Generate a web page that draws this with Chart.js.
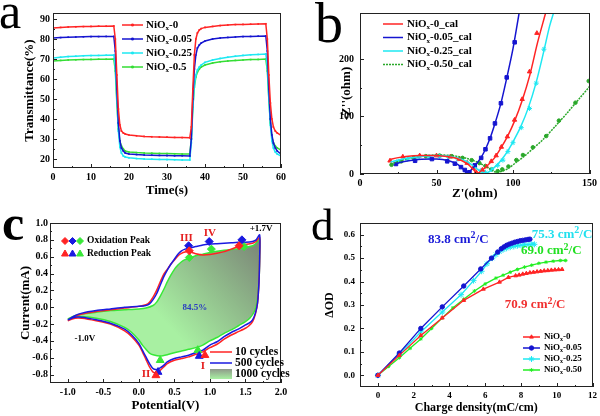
<!DOCTYPE html>
<html>
<head>
<meta charset="utf-8">
<script src="https://cdn.jsdelivr.net/npm/chart.js@4.4.1/dist/chart.umd.min.js"></script>
<style>
  body { margin: 0; width: 600px; height: 416px; background: #fff; position: relative; overflow: hidden; }
  canvas { position: absolute; }
  .tag { position: absolute; font-family: "Liberation Serif", serif; line-height: 1; color: #000; }
</style>
</head>
<body>
<canvas id="chartA" width="300" height="208" style="left:0;top:0"></canvas>
<canvas id="chartB" width="300" height="208" style="left:300px;top:0"></canvas>
<canvas id="chartC" width="300" height="208" style="left:0;top:208px"></canvas>
<canvas id="chartD" width="300" height="208" style="left:300px;top:208px"></canvas>
<div class="tag" style="left:-1px;top:-14px;font-size:50px">a</div>
<div class="tag" style="left:315px;top:-5px;font-size:56px">b</div>
<div class="tag" style="left:2px;top:198px;font-size:50px;font-weight:bold">c</div>
<div class="tag" style="left:311px;top:203px;font-size:45px">d</div>
<script>
// panel a: transmittance vs time
const timeS = [0, 2, 4, 6, 8, 10, 12, 14, 16, 16.4, 16.8, 17.2, 17.6, 18, 18.5, 19, 20, 22, 24, 26, 28, 30, 32, 34, 36,
  36.4, 36.8, 37.2, 37.6, 38, 38.5, 39, 40, 42, 44, 46, 48, 50, 52, 54, 56, 56.4, 56.8, 57.2, 57.6, 58, 58.5, 59, 60];
const transNiO0 = [85.5, 85.8, 86, 86.1, 86.2, 86.3, 86.4, 86.4, 86.5, 80, 62, 45, 37, 34, 33, 32.5, 32, 31.6, 31.3, 31.1, 31, 30.9, 30.8, 30.7, 30.6,
  36, 55, 72, 80, 83, 84.5, 85.2, 85.8, 86.3, 86.7, 87, 87.2, 87.3, 87.4, 87.5, 87.6, 80, 62, 48, 40, 36, 34, 33, 31.8];
const transNiO005 = [80.5, 80.7, 80.9, 81, 81.1, 81.2, 81.2, 81.3, 81.3, 74, 55, 38, 29, 25.5, 24, 23, 22.5, 22.2, 22, 21.9, 21.8, 21.7, 21.6, 21.6, 21.5,
  30, 50, 65, 72, 75.5, 77, 78, 79, 80, 80.5, 80.8, 81, 81.2, 81.3, 81.4, 81.5, 74, 55, 40, 32, 28, 25.5, 24, 22.5];
const transNiO025 = [70.5, 70.9, 71.2, 71.4, 71.6, 71.7, 71.8, 71.9, 72, 66, 50, 34, 26, 23, 21.5, 21, 20.6, 20.2, 20, 19.9, 19.8, 19.7, 19.6, 19.5, 19.5,
  28, 45, 57, 62, 64.5, 66, 67, 68.3, 69.5, 70.3, 70.9, 71.4, 71.8, 72.1, 72.3, 72.5, 66, 50, 37, 29, 25.5, 23.5, 22.5, 21.5];
const transNiO05 = [69, 69.3, 69.5, 69.6, 69.7, 69.8, 69.9, 69.9, 70, 64, 48, 35, 29, 26.5, 25, 24, 23.5, 23.2, 23, 22.9, 22.8, 22.7, 22.6, 22.5, 22.5,
  30, 46, 56, 61, 63.5, 65, 66, 67, 68, 68.6, 69, 69.3, 69.5, 69.7, 69.8, 70, 64, 50, 38, 31, 28, 26.5, 25.5, 24.5];
const aTicksX = [0, 10, 20, 30, 40, 50, 60];
const aTicksY = [20, 30, 40, 50, 60, 70, 80, 90];
const aLegend = ['-0', '-0.05', '-0.25', '-0.5'];

// panel b: Nyquist, fitted lines and measured points
const bFitRedX = [19, 25, 30, 40, 50, 60, 66, 70, 73, 75, 76.5, 78, 80, 83, 86, 89, 92.5, 96.5, 101, 106, 111, 116, 121.3];
const bFitRedY = [25, 28.5, 30.5, 32, 32, 29, 24, 18, 11, 5, 1, 3, 7, 14, 22, 32, 47, 66, 92, 128, 172, 228, 280];
const bFitBlueX = [23, 30, 40, 50, 58, 63, 66, 68, 69.5, 70.5, 72, 75, 79, 82, 85, 88, 92, 96, 100, 104];
const bFitBlueY = [18, 22, 25.5, 26, 23, 18, 12, 7, 2, 1, 5, 14, 28, 43, 62, 86, 122, 168, 218, 280];
const bFitCyanX = [20, 30, 40, 50, 60, 67, 72, 76, 79, 81.5, 83, 85, 88, 91, 94, 97, 100, 105, 110, 115, 120, 124, 126.5];
const bFitCyanY = [21, 27, 30.5, 32, 30, 25, 18, 10, 4, 1, 2, 5, 12, 20, 30, 42, 56, 82, 115, 158, 212, 258, 280];
const bFitGreenX = [20, 30, 40, 50, 60, 70, 78, 83, 86, 88, 90, 93, 97, 102, 107, 113, 120, 128, 136, 143, 150];
const bFitGreenY = [17, 26, 31, 33, 32, 27, 19, 12, 7, 4, 3.5, 5, 10, 20, 30, 44, 61, 84, 108, 130, 152];
const bPtRedX = [19.6, 28, 39, 50, 59, 65, 70, 74, 76, 80, 82.6, 85.8, 89, 92.4, 96.3, 101, 106, 110.8, 115.6];
const bPtRedY = [23, 30, 32, 32, 30, 26, 19, 10, 3, 7, 13, 22, 32, 47, 65, 94, 130, 178, 245];
const bPtBlueX = [23.5, 36, 47, 57, 62, 66, 68.5, 70, 71.5, 75, 79.2, 82, 85, 88.2, 92.1, 95.9, 101.1];
const bPtBlueY = [17.4, 23, 26, 22, 18, 12, 7, 2, 3, 15, 28, 43, 62, 88, 123, 168, 229];
const bPtCyanX = [25, 31, 38, 45, 52, 58, 64, 70, 75, 79, 82, 86, 90, 93.4, 96.7, 100, 105.4, 110.8, 115.2, 120.2];
const bPtCyanY = [22, 26, 29, 30, 31, 29, 26, 20, 12, 6, 3, 8, 15, 24, 39, 54.5, 80.6, 114, 158, 217];
const bPtGreenX = [20.6, 27, 35, 43, 52, 60, 67, 73, 78, 82, 86, 90, 93, 97, 102.2, 106.5, 113, 121.7, 130, 140.8, 149.5];
const bPtGreenY = [16, 22, 28, 31, 32, 31, 28, 24, 19, 14, 8, 5, 8, 13, 24.3, 33, 46.4, 66, 92.8, 124, 161.7];
const bTicksX = [0, 50, 100, 150];
const bTicksY = [0, 100, 200];
const bLegend = ['-0_cal', '-0.05_cal', '-0.25_cal', '-0.50_cal'];

// panel c: CV loops (anodic branch then cathodic branch, closed)
const cv10X = [-1.0, -0.9, -0.8, -0.6, -0.4, -0.2, 0.0, 0.1, 0.15, 0.2, 0.25, 0.3, 0.35, 0.4, 0.45, 0.5, 0.55, 0.6, 0.65, 0.7, 0.75, 0.8, 0.9, 1.0, 1.1, 1.2, 1.3, 1.4, 1.5, 1.6, 1.65, 1.7,
  1.7, 1.69, 1.67, 1.64, 1.6, 1.55, 1.5, 1.4, 1.3, 1.2, 1.1, 1.0, 0.9, 0.8, 0.7, 0.6, 0.5, 0.4, 0.35, 0.3, 0.25, 0.2, 0.15, 0.1, 0.05, 0.0, -0.1, -0.2, -0.4, -0.6, -0.8, -0.9, -1.0];
const cv10Y = [-0.16, -0.11, -0.08, -0.05, -0.03, -0.01, 0.01, 0.03, 0.06, 0.12, 0.2, 0.3, 0.39, 0.45, 0.51, 0.56, 0.61, 0.64, 0.655, 0.66, 0.65, 0.635, 0.62, 0.625, 0.64, 0.66, 0.69, 0.72, 0.745, 0.76, 0.78, 0.83,
  0.6, 0.3, 0.05, -0.08, -0.17, -0.22, -0.25, -0.29, -0.33, -0.38, -0.44, -0.48, -0.53, -0.56, -0.59, -0.61, -0.63, -0.67, -0.71, -0.75, -0.78, -0.77, -0.71, -0.62, -0.53, -0.45, -0.35, -0.28, -0.2, -0.16, -0.13, -0.13, -0.16];
const cv500X = cv10X;
const cv500Y = [-0.15, -0.1, -0.07, -0.04, -0.02, 0.0, 0.01, 0.02, 0.04, 0.09, 0.16, 0.26, 0.36, 0.44, 0.51, 0.57, 0.63, 0.67, 0.69, 0.7, 0.71, 0.72, 0.74, 0.75, 0.755, 0.76, 0.765, 0.77, 0.77, 0.78, 0.8, 0.86,
  0.6, 0.3, 0.05, -0.07, -0.15, -0.19, -0.21, -0.26, -0.3, -0.35, -0.41, -0.45, -0.51, -0.54, -0.57, -0.59, -0.61, -0.65, -0.69, -0.72, -0.74, -0.73, -0.67, -0.59, -0.51, -0.43, -0.33, -0.26, -0.19, -0.15, -0.12, -0.12, -0.15];
const cv1000X = [-1.0, -0.9, -0.8, -0.6, -0.4, -0.2, 0.0, 0.1, 0.2, 0.25, 0.3, 0.35, 0.4, 0.45, 0.5, 0.55, 0.6, 0.65, 0.7, 0.8, 0.9, 1.0, 1.1, 1.2, 1.3, 1.4, 1.5, 1.6, 1.65, 1.7,
  1.7, 1.69, 1.66, 1.62, 1.56, 1.5, 1.4, 1.3, 1.2, 1.1, 1.0, 0.9, 0.8, 0.7, 0.6, 0.5, 0.4, 0.3, 0.2, 0.15, 0.1, 0.05, 0.0, -0.1, -0.2, -0.4, -0.6, -0.8, -0.9, -1.0];
const cv1000Y = [-0.14, -0.1, -0.08, -0.06, -0.04, -0.03, -0.02, -0.01, 0.02, 0.06, 0.13, 0.21, 0.3, 0.38, 0.45, 0.5, 0.54, 0.565, 0.58, 0.61, 0.63, 0.65, 0.665, 0.675, 0.685, 0.695, 0.71, 0.73, 0.76, 0.81,
  0.6, 0.3, 0.05, -0.06, -0.13, -0.17, -0.22, -0.27, -0.31, -0.36, -0.4, -0.45, -0.48, -0.5, -0.52, -0.54, -0.565, -0.58, -0.565, -0.545, -0.5, -0.45, -0.39, -0.3, -0.24, -0.17, -0.13, -0.11, -0.11, -0.14];
const oxRedX = [0.71, 1.41], oxRedY = [0.67, 0.73];
const oxBlueX = [0.70, 0.99, 1.45], oxBlueY = [0.73, 0.78, 0.80];
const oxGreenX = [0.71, 1.02, 1.48], oxGreenY = [0.59, 0.69, 0.72];
const rdRedX = [0.24, 0.93], rdRedY = [-0.81, -0.57];
const rdBlueX = [0.27, 0.85], rdBlueY = [-0.77, -0.58];
const rdGreenX = [0.30, 0.83], rdGreenY = [-0.63, -0.51];
const cTicksX = [-1.0, -0.5, 0.0, 0.5, 1.0, 1.5, 2.0];
const cTicksY = [-0.8, -0.6, -0.4, -0.2, 0.0, 0.2, 0.4, 0.6, 0.8, 1.0];
const cLegend = ['10 cycles', '500 cycles', '1000 cycles'];

// panel d: delta OD vs charge density
const dRedX = [0, 1.2, 2.4, 3.6, 4.8, 5.9, 6.8, 7.3, 7.7, 7.9, 8.1, 8.3, 8.5, 8.7, 8.9, 9.1, 9.3, 9.5, 9.7, 9.9, 10.1, 10.3];
const dRedY = [0, 0.085, 0.17, 0.245, 0.32, 0.368, 0.398, 0.418, 0.425, 0.428, 0.432, 0.435, 0.438, 0.44, 0.442, 0.444, 0.446, 0.447, 0.449, 0.45, 0.451, 0.452];
const dBlueX = [0, 1.2, 2.4, 3.6, 4.8, 5.75, 6.35, 6.7, 6.9, 7.05, 7.2, 7.35, 7.5, 7.65, 7.8, 7.95, 8.1, 8.25, 8.4, 8.5];
const dBlueY = [0, 0.095, 0.2, 0.292, 0.381, 0.454, 0.5, 0.526, 0.54, 0.548, 0.555, 0.56, 0.564, 0.568, 0.571, 0.574, 0.576, 0.578, 0.58, 0.581];
const dCyanX = [0, 1.2, 2.4, 3.6, 4.65, 5.35, 5.8, 6.1, 6.4, 6.6, 6.8, 7.0, 7.2, 7.4, 7.6, 7.8, 8.0, 8.2, 8.4, 8.6, 8.75];
const dCyanY = [0, 0.09, 0.185, 0.27, 0.344, 0.404, 0.444, 0.476, 0.5, 0.515, 0.527, 0.536, 0.542, 0.547, 0.55, 0.553, 0.555, 0.557, 0.558, 0.559, 0.559];
const dGreenX = [0, 0.6, 1.2, 1.8, 2.4, 3.0, 3.6, 4.2, 4.8, 5.4, 6.0, 6.6, 7.0, 7.4, 7.8, 8.2, 8.6, 9.0, 9.4, 9.8, 10.2, 10.5];
const dGreenY = [0, 0.038, 0.075, 0.115, 0.155, 0.2, 0.245, 0.288, 0.325, 0.36, 0.39, 0.415, 0.427, 0.44, 0.452, 0.462, 0.47, 0.478, 0.483, 0.487, 0.49, 0.49];
const dTicksX = [0, 2, 4, 6, 8, 10, 12];
const dTicksY = [0, 0.1, 0.2, 0.3, 0.4, 0.5, 0.6];
const dLegend = ['-0', '-0.05', '-0.25', '-0.50'];
const dLabels = ['70.9', '83.8', '75.3', '69.0'];

const SERIF = '"Liberation Serif", "Times New Roman", serif';
const RED = '#ff2424', BLUE = '#1515d0', CYAN = '#1ee8f2', GREEN = '#35dd35';

Chart.defaults.font.family = SERIF;
Chart.defaults.font.weight = 'bold';
Chart.defaults.font.size = 10;
Chart.defaults.color = '#000';

function pts(xs, ys) {
  return xs.map((x, i) => ({ x: x, y: ys[i] }));
}

function font(size, bold) {
  return (bold === false ? '' : 'bold ') + size + 'px ' + SERIF;
}

// NiOx with a subscript x
function drawNiO(ctx, x, y, suffix, size) {
  ctx.textAlign = 'left';
  ctx.textBaseline = 'middle';
  ctx.font = font(size);
  ctx.fillText('NiO', x, y);
  let w = ctx.measureText('NiO').width;
  ctx.font = font(Math.round(size * 0.65));
  ctx.fillText('x', x + w, y + size * 0.32);
  w += ctx.measureText('x').width;
  ctx.font = font(size);
  ctx.fillText(suffix, x + w, y);
}

function marker(ctx, style, r, x, y, color) {
  ctx.fillStyle = color;
  ctx.strokeStyle = color;
  Chart.helpers.drawPoint(ctx, { pointStyle: style, radius: r, rotation: 0, borderWidth: 1 }, x, y);
}

function legendLine(ctx, x1, x2, y, color, dash) {
  ctx.save();
  ctx.strokeStyle = color;
  ctx.lineWidth = 1.5;
  ctx.setLineDash(dash || []);
  ctx.beginPath();
  ctx.moveTo(x1, y);
  ctx.lineTo(x2, y);
  ctx.stroke();
  ctx.restore();
}

// box frame with small inward ticks
const framePlugin = {
  id: 'frame',
  afterDraw(chart) {
    const { ctx, chartArea: a } = chart;
    const xs = chart.scales.x, ys = chart.scales.y;
    ctx.save();
    ctx.strokeStyle = '#222';
    ctx.lineWidth = 1;
    ctx.strokeRect(Math.round(a.left) + 0.5, Math.round(a.top) + 0.5, Math.round(a.width) - 1, Math.round(a.height) - 1);
    ctx.beginPath();
    const xv = xs.ticks.map(t => t.value);
    xv.forEach((v, i) => {
      const p = Math.round(xs.getPixelForValue(v)) + 0.5;
      ctx.moveTo(p, a.bottom); ctx.lineTo(p, a.bottom - 4);
      if (i < xv.length - 1) {
        const m = Math.round(xs.getPixelForValue((v + xv[i + 1]) / 2)) + 0.5;
        ctx.moveTo(m, a.bottom); ctx.lineTo(m, a.bottom - 2);
      }
    });
    const yv = ys.ticks.map(t => t.value);
    yv.forEach((v, i) => {
      const p = Math.round(ys.getPixelForValue(v)) + 0.5;
      ctx.moveTo(a.left, p); ctx.lineTo(a.left + 4, p);
      if (i < yv.length - 1) {
        const m = Math.round(ys.getPixelForValue((v + yv[i + 1]) / 2)) + 0.5;
        ctx.moveTo(a.left, m); ctx.lineTo(a.left + 2, m);
      }
    });
    ctx.stroke();
    ctx.restore();
  }
};

function axis(min, max, tickVals, fmt, title, titleSize, titlePad, box, horizontal, tickPad, tickSize) {
  return {
    type: 'linear',
    min: min,
    max: max,
    afterBuildTicks: s => { s.ticks = tickVals.map(v => ({ value: v })); },
    afterFit: s => { if (horizontal) s.height = box; else s.width = box; },
    grid: { display: false, drawTicks: false },
    border: { display: false },
    ticks: { font: { size: tickSize || 10, weight: 'bold' }, padding: tickPad, callback: fmt, maxRotation: 0, autoSkip: false },
    title: { display: true, text: title, font: { size: titleSize, weight: 'bold' }, padding: titlePad },
  };
}

function panel(id, datasets, xAxis, yAxis, pad, extra) {
  return new Chart(document.getElementById(id), {
    type: 'scatter',
    data: { datasets: datasets },
    options: {
      responsive: false,
      animation: false,
      devicePixelRatio: 1,
      events: [],
      layout: { padding: pad },
      plugins: { legend: { display: false }, tooltip: { enabled: false } },
      scales: { x: xAxis, y: yAxis },
    },
    plugins: [framePlugin, extra],
  });
}

const fmt0 = v => String(v);
const fmt1 = v => v.toFixed(1);

// ---------- a ----------
const aColors = [RED, BLUE, CYAN, GREEN];
const aData = [transNiO0, transNiO005, transNiO025, transNiO05];
panel('chartA',
  aData.map((ys, i) => ({
    data: pts(timeS, ys), showLine: true, borderColor: aColors[i], backgroundColor: aColors[i],
    borderWidth: 1.5, pointStyle: 'rect', pointRadius: 1.2, pointBorderWidth: 0,
  })),
  axis(0, 60, aTicksX, fmt0, 'Time(s)', 13, { bottom: 10 }, 40, true, 3),
  axis(15.5, 93, aTicksY, fmt0, 'Transmittance(%)', 13, { top: 22 }, 53, false, 3),
  { top: 13, right: 19, left: 0, bottom: 0 },
  {
    id: 'legA',
    afterDraw(chart) {
      const ctx = chart.ctx;
      aLegend.forEach((s, i) => {
        const y = 25 + i * 14;
        legendLine(ctx, 122, 143, y, aColors[i]);
        marker(ctx, 'rect', 1.3, 132.5, y, aColors[i]);
        ctx.fillStyle = '#000';
        drawNiO(ctx, 146, y, s, 11);
      });
    }
  });

// ---------- b ----------
const bColors = [RED, BLUE, CYAN, '#2aa82a'];
const bFits = [[bFitRedX, bFitRedY], [bFitBlueX, bFitBlueY], [bFitCyanX, bFitCyanY], [bFitGreenX, bFitGreenY]];
const bPts = [[bPtRedX, bPtRedY], [bPtBlueX, bPtBlueY], [bPtCyanX, bPtCyanY], [bPtGreenX, bPtGreenY]];
const bStyles = ['triangle', 'rect', 'star', 'circle'];
const bDatasets = [];
bFits.forEach((f, i) => {
  bDatasets.push({
    data: pts(f[0], f[1]), showLine: true, borderColor: bColors[i], borderWidth: 1.5, pointRadius: 0,
    tension: 0.3, borderDash: i === 3 ? [2, 1] : [],
  });
});
bPts.forEach((p, i) => {
  bDatasets.push({
    data: pts(p[0], p[1]), showLine: false, pointStyle: bStyles[i], pointRadius: i === 3 ? 1.8 : 2.5,
    backgroundColor: bColors[i], borderColor: bColors[i], pointBorderWidth: 1,
  });
});
panel('chartB', bDatasets,
  axis(0, 150, bTicksX, fmt0, "Z'(ohm)", 13, { bottom: 7 }, 34, true, 3),
  axis(0, 280, bTicksY, fmt0, "-Z''(ohm)", 13, { top: 39 }, 60, false, 6),
  { top: 13, right: 10, left: 0, bottom: 0 },
  {
    id: 'legB',
    afterDraw(chart) {
      const ctx = chart.ctx;
      bLegend.forEach((s, i) => {
        const y = 24 + i * 13.5;
        legendLine(ctx, 83, 103, y, bColors[i], i === 3 ? [2, 1] : null);
        ctx.fillStyle = '#000';
        drawNiO(ctx, 107, y, s, 11);
      });
    }
  });

// ---------- c ----------
const cColors = [RED, '#1a1ae0', '#38e838'];
const cFill = (c) => {
  const chart = c.chart, a = chart.chartArea;
  if (!a) return '#a6eea0';
  const g = chart.ctx.createLinearGradient(a.left + a.width * 0.88, a.top + a.height * 0.12, a.left + a.width * 0.5, a.top + a.height * 0.62);
  g.addColorStop(0, '#7d8a79');
  g.addColorStop(0.45, '#8fb98a');
  g.addColorStop(1, '#a8f0a2');
  return g;
};
const cDatasets = [
  { data: pts(cv1000X, cv1000Y), showLine: true, fill: 'shape', backgroundColor: cFill, borderColor: cColors[2], borderWidth: 1.5, pointRadius: 0, tension: 0.2, order: 5 },
  { data: pts(cv10X, cv10Y), showLine: true, borderColor: cColors[0], borderWidth: 1.5, pointRadius: 0, tension: 0.2, order: 3 },
  { data: pts(cv500X, cv500Y), showLine: true, borderColor: cColors[1], borderWidth: 1.5, pointRadius: 0, tension: 0.2, order: 2 },
];
[[oxRedX, oxRedY], [oxBlueX, oxBlueY], [oxGreenX, oxGreenY]].forEach((p, i) => {
  cDatasets.push({ data: pts(p[0], p[1]), showLine: false, pointStyle: 'rectRot', pointRadius: 4, backgroundColor: cColors[i], borderColor: cColors[i], order: 0 });
});
[[rdRedX, rdRedY], [rdBlueX, rdBlueY], [rdGreenX, rdGreenY]].forEach((p, i) => {
  cDatasets.push({ data: pts(p[0], p[1]), showLine: false, pointStyle: 'triangle', pointRadius: 4.5, backgroundColor: cColors[i], borderColor: cColors[i], order: 0 });
});
panel('chartC', cDatasets,
  axis(-1.25, 2.0, cTicksX, fmt1, 'Potential(V)', 13, { bottom: 3 }, 33, true, 3),
  axis(-0.9, 1.0, cTicksY, fmt1, 'Current(mA)', 13, { top: 18 }, 50, false, 2),
  { top: 15, right: 19, left: 0, bottom: 0 },
  {
    id: 'annC',
    afterDraw(chart) {
      const ctx = chart.ctx, xs = chart.scales.x, ys = chart.scales.y;
      const put = (t, x, y, color, size) => {
        ctx.font = font(size);
        ctx.fillStyle = color;
        ctx.textAlign = 'center';
        ctx.textBaseline = 'middle';
        ctx.fillText(t, xs.getPixelForValue(x), ys.getPixelForValue(y));
      };
      put('III', 0.67, 0.82, '#e52020', 11);
      put('IV', 1.0, 0.885, '#e52020', 11);
      put('+1.7V', 1.72, 0.93, '#000', 9);
      put('II', 0.1, -0.79, '#e52020', 11);
      put('I', 0.9, -0.7, '#e52020', 11);
      put('-1.0V', -0.76, -0.37, '#000', 9);
      put('84.5%', 0.79, 0.0, '#2a3cc0', 9);
      // peak legend
      [65, 72.5, 80].forEach((x, i) => {
        marker(ctx, 'rectRot', 3.5, x, 33, cColors[i]);
        marker(ctx, 'triangle', 4, x, 46, cColors[i]);
      });
      ctx.fillStyle = '#000';
      ctx.font = font(9.5);
      ctx.textAlign = 'left';
      ctx.textBaseline = 'middle';
      ctx.fillText('Oxidation Peak', 87, 33);
      ctx.fillText('Reduction Peak', 87, 46);
      // cycles legend
      legendLine(ctx, 210, 232, 144, cColors[0]);
      legendLine(ctx, 210, 232, 155, cColors[1]);
      const g = ctx.createLinearGradient(0, 161, 0, 171);
      g.addColorStop(0, '#8f9a8a');
      g.addColorStop(1, '#a8f0a2');
      ctx.fillStyle = g;
      ctx.fillRect(210, 161, 22, 10);
      ctx.fillStyle = '#000';
      ctx.font = font(11.5);
      cLegend.forEach((t, i) => ctx.fillText(t, 235, 144 + i * 11));
    }
  });

// ---------- d ----------
const dColors = [RED, BLUE, CYAN, '#22ee22'];
const dSeries = [[dRedX, dRedY], [dBlueX, dBlueY], [dCyanX, dCyanY], [dGreenX, dGreenY]];
const dStyles = ['triangle', 'circle', 'star', 'star'];
const dRadius = [2.2, 2.2, 3, 1.8];
panel('chartD',
  dSeries.map((s, i) => ({
    data: pts(s[0], s[1]), showLine: true, borderColor: dColors[i], backgroundColor: dColors[i], borderWidth: 1.3,
    pointStyle: dStyles[i], pointRadius: dRadius[i], pointBorderWidth: 1,
  })),
  axis(-1, 12, dTicksX, fmt0, 'Charge density(mC/cm)', 12, { bottom: 1 }, 29, true, 3, 9),
  axis(-0.05, 0.65, dTicksY, fmt1, '\u0394OD', 12, { top: 23 }, 60, false, 5, 9),
  { top: 15, right: 7, left: 0, bottom: 0 },
  {
    id: 'annD',
    afterDraw(chart) {
      const ctx = chart.ctx, xs = chart.scales.x, ys = chart.scales.y;
      const rate = (num, x, y, color) => {
        let px = xs.getPixelForValue(x);
        const py = ys.getPixelForValue(y);
        ctx.fillStyle = color;
        ctx.textAlign = 'left';
        ctx.textBaseline = 'middle';
        ctx.font = font(13);
        ctx.fillText(num + ' cm', px, py);
        px += ctx.measureText(num + ' cm').width;
        ctx.font = font(10);
        ctx.fillText('2', px, py - 4);
        px += ctx.measureText('2').width;
        ctx.font = font(13);
        ctx.fillText('/C', px, py);
      };
      rate(dLabels[0], 7.1, 0.3, '#f03030');
      rate(dLabels[1], 2.8, 0.58, '#1a1ad8');
      rate(dLabels[2], 8.6, 0.6, '#22e0ee');
      rate(dLabels[3], 8.0, 0.53, '#22e022');
      dLegend.forEach((s, i) => {
        const y = 129 + i * 11;
        legendLine(ctx, 223, 240, y, dColors[i]);
        marker(ctx, dStyles[i], dRadius[i], 231.5, y, dColors[i]);
        ctx.fillStyle = '#000';
        drawNiO(ctx, 244, y, s, 9);
      });
    }
  });
</script>
</body>
</html>
